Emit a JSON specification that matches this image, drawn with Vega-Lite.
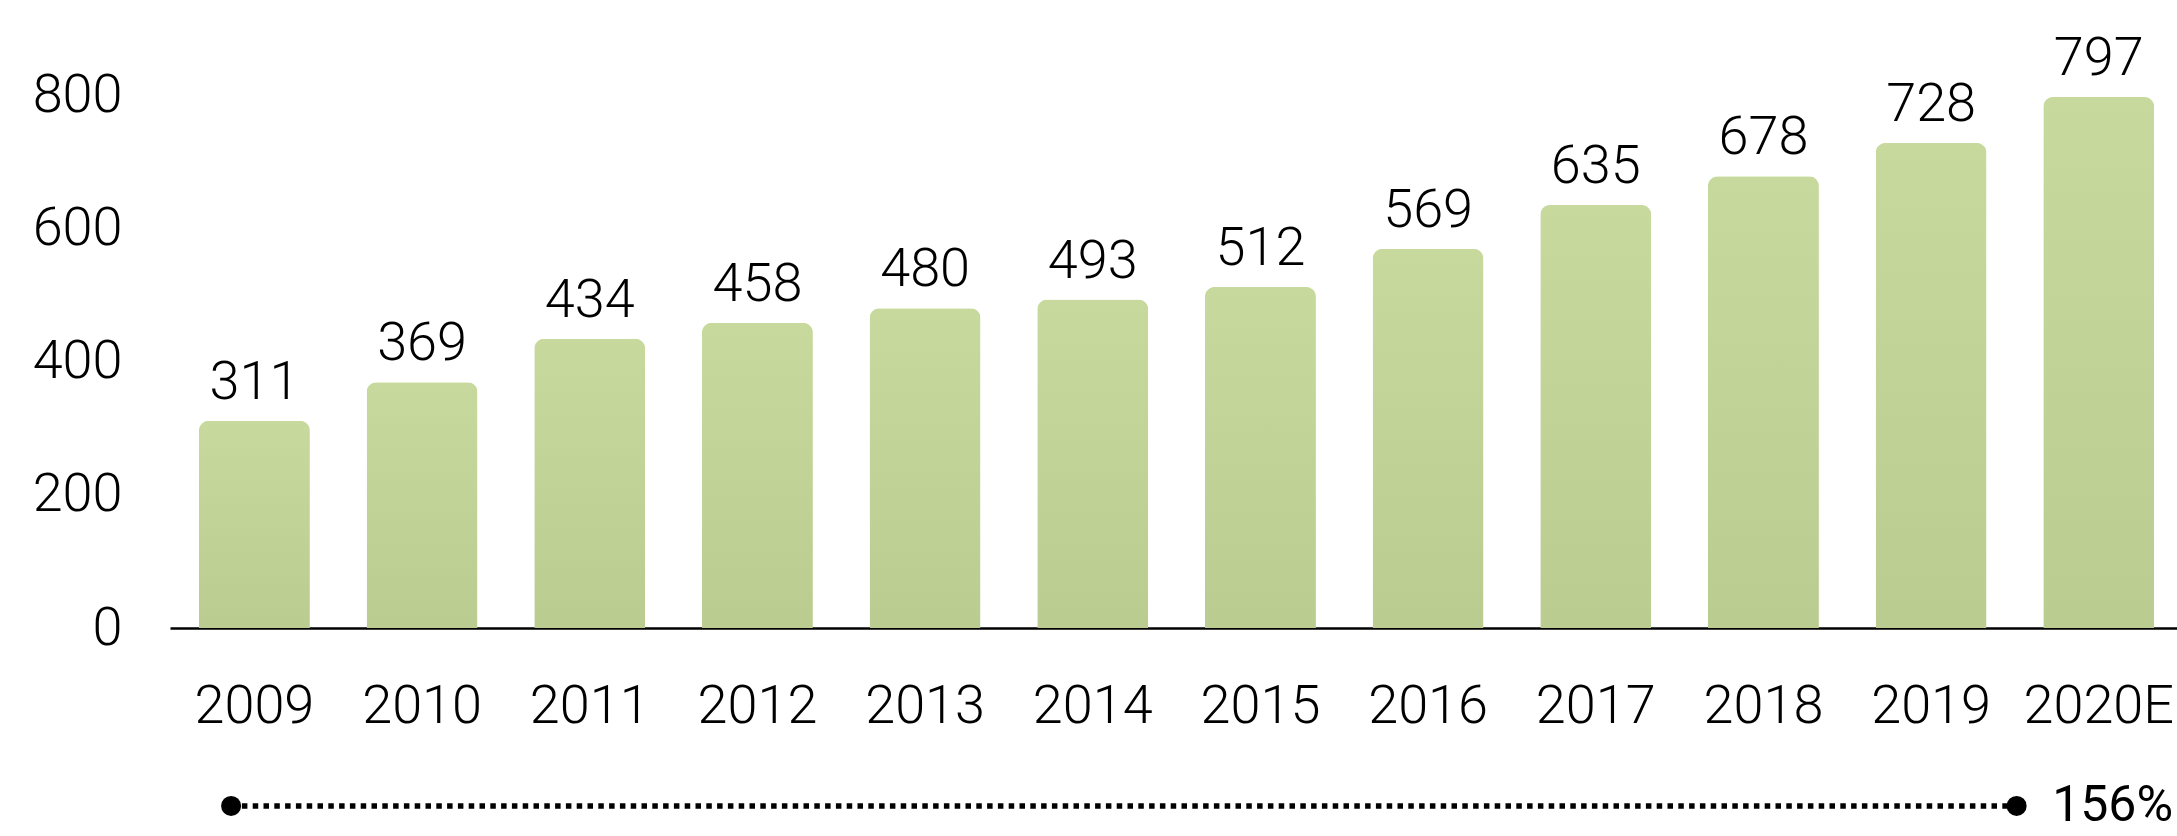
{
  "$schema": "https://vega.github.io/schema/vega-lite/v6.json",
  "width": 2007,
  "height": 533,
  "autosize": {"type": "none"},
  "padding": {"left": 170, "top": 95, "right": 0, "bottom": 208},
  "background": "white",
  "config": {
    "view": {"stroke": null},
    "font": "Roboto, 'DejaVu Sans Condensed', sans-serif"
  },
  "datasets": {
    "sales": [
      {"year": "2009", "value": 311},
      {"year": "2010", "value": 369},
      {"year": "2011", "value": 434},
      {"year": "2012", "value": 458},
      {"year": "2013", "value": 480},
      {"year": "2014", "value": 493},
      {"year": "2015", "value": 512},
      {"year": "2016", "value": 569},
      {"year": "2017", "value": 635},
      {"year": "2018", "value": 678},
      {"year": "2019", "value": 728},
      {"year": "2020E", "value": 797}
    ],
    "growth": [
      {"from": "2009", "to": "2020E", "growth": "156%"}
    ]
  },
  "encoding": {
    "x": {
      "field": "year",
      "type": "nominal",
      "sort": null,
      "scale": {"paddingInner": 0.338, "paddingOuter": 0.154, "align": 0.56},
      "axis": {
        "title": null,
        "labelAngle": 0,
        "labelFont": "Roboto, 'DejaVu Sans Condensed', sans-serif",
        "labelFontSize": 54,
        "labelFontWeight": 300,
        "labelColor": "#000000",
        "labelBaseline": "alphabetic",
        "labelPadding": 94,
        "ticks": false,
        "tickSize": 0,
        "domain": true,
        "domainColor": "#000000",
        "domainWidth": 2.5,
        "grid": false
      }
    }
  },
  "layer": [
    {
      "data": {"name": "sales"},
      "mark": {
        "type": "bar",
        "cornerRadiusTopLeft": 10,
        "cornerRadiusTopRight": 10,
        "color": {
          "gradient": "linear",
          "x1": 0, "y1": 0, "x2": 0, "y2": 1,
          "stops": [
            {"offset": 0, "color": "#c7d99d"},
            {"offset": 1, "color": "#bbcc91"}
          ]
        }
      },
      "encoding": {
        "y": {
          "field": "value",
          "type": "quantitative",
          "scale": {"domain": [0, 800], "nice": false, "zero": true},
          "axis": {
            "title": null,
            "values": [0, 200, 400, 600, 800],
            "labelFont": "Roboto, 'DejaVu Sans Condensed', sans-serif",
            "labelFontSize": 54,
            "labelFontWeight": 300,
            "labelColor": "#000000",
            "labelPadding": 48,
            "ticks": false,
            "tickSize": 0,
            "domain": false,
            "grid": false
          }
        }
      }
    },
    {
      "data": {"name": "sales"},
      "mark": {
        "type": "text",
        "baseline": "alphabetic",
        "align": "center",
        "dy": -22,
        "fontSize": 54,
        "fontWeight": 300,
        "color": "#000000"
      },
      "encoding": {
        "y": {"field": "value", "type": "quantitative"},
        "text": {"field": "value", "type": "quantitative"}
      }
    },
    {
      "data": {"name": "growth"},
      "mark": {"type": "rule", "color": "#000000", "strokeWidth": 5.5, "strokeDash": [5.5, 5.3], "strokeCap": "butt"},
      "encoding": {
        "x": {"field": "from", "type": "nominal", "bandPosition": 0.29},
        "x2": {"field": "to", "bandPosition": -0.24},
        "y": {"datum": -267, "type": "quantitative"}
      }
    },
    {
      "data": {"name": "growth"},
      "mark": {"type": "point", "shape": "circle", "filled": true, "size": 400, "color": "#000000", "opacity": 1},
      "encoding": {
        "x": {"field": "from", "type": "nominal", "bandPosition": 0.29},
        "y": {"datum": -267, "type": "quantitative"}
      }
    },
    {
      "data": {"name": "growth"},
      "mark": {"type": "point", "shape": "circle", "filled": true, "size": 400, "color": "#000000", "opacity": 1},
      "encoding": {
        "x": {"field": "to", "type": "nominal", "bandPosition": -0.24},
        "y": {"datum": -267, "type": "quantitative"}
      }
    },
    {
      "data": {"name": "growth"},
      "mark": {"type": "text", "align": "left", "baseline": "middle", "fontSize": 50, "fontWeight": 400, "color": "#000000"},
      "encoding": {
        "x": {"field": "to", "type": "nominal", "bandPosition": 0.08},
        "y": {"datum": -267, "type": "quantitative"},
        "text": {"field": "growth", "type": "nominal"}
      }
    }
  ]
}
